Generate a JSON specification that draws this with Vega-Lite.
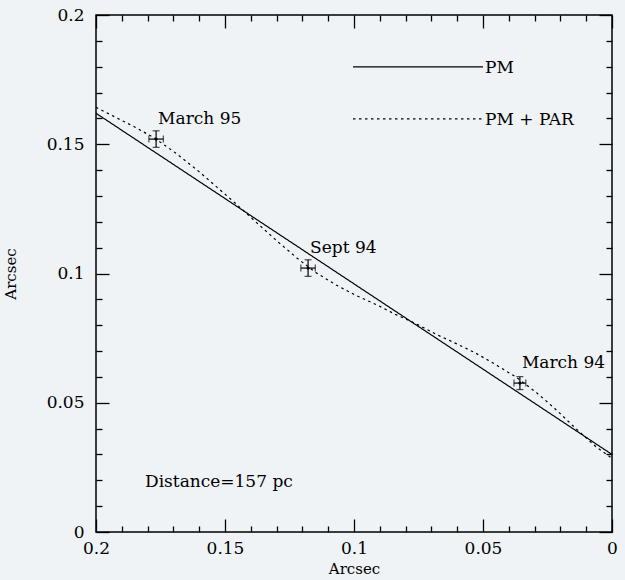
{
  "$schema": "https://vega.github.io/schema/vega-lite/v6.json",
  "width": 516,
  "height": 517,
  "autosize": {"type": "none"},
  "padding": {"left": 96, "top": 15, "right": 13, "bottom": 48},
  "background": "#eff3f6",
  "config": {
    "view": {"stroke": "#000", "strokeWidth": 1.5},
    "mark": {"color": "#000"},
    "axis": {
      "grid": false, "domain": false,
      "labelFont": "DejaVu Serif", "labelFontSize": 17, "labelColor": "#000",
      "titleFont": "DejaVu Serif", "titleFontSize": 15, "titleFontWeight": "normal", "titleColor": "#000",
      "tickColor": "#000", "tickWidth": 1.3,
      "labelFlush": false, "labelOverlap": false, "labelBound": false
    },
    "text": {"font": "DejaVu Serif", "fontSize": 17, "color": "#000"}
  },
  "datasets": {
    "lines": [
      {"series": "PM", "x": 0.2, "y": 0.162},
      {"series": "PM", "x": 0.0, "y": 0.030},
      {"series": "PM + PAR", "x": 0.2, "y": 0.1643},
      {"series": "PM + PAR", "x": 0.192, "y": 0.1602},
      {"series": "PM + PAR", "x": 0.185, "y": 0.1567},
      {"series": "PM + PAR", "x": 0.177, "y": 0.1522},
      {"series": "PM + PAR", "x": 0.169, "y": 0.1465},
      {"series": "PM + PAR", "x": 0.161, "y": 0.1402},
      {"series": "PM + PAR", "x": 0.153, "y": 0.1333},
      {"series": "PM + PAR", "x": 0.146, "y": 0.1272},
      {"series": "PM + PAR", "x": 0.138, "y": 0.1199},
      {"series": "PM + PAR", "x": 0.130, "y": 0.1127},
      {"series": "PM + PAR", "x": 0.122, "y": 0.1059},
      {"series": "PM + PAR", "x": 0.115, "y": 0.1005},
      {"series": "PM + PAR", "x": 0.107, "y": 0.0956},
      {"series": "PM + PAR", "x": 0.099, "y": 0.0914},
      {"series": "PM + PAR", "x": 0.091, "y": 0.0878},
      {"series": "PM + PAR", "x": 0.084, "y": 0.0842},
      {"series": "PM + PAR", "x": 0.076, "y": 0.0806},
      {"series": "PM + PAR", "x": 0.068, "y": 0.0764},
      {"series": "PM + PAR", "x": 0.060, "y": 0.0727},
      {"series": "PM + PAR", "x": 0.053, "y": 0.0693},
      {"series": "PM + PAR", "x": 0.045, "y": 0.0647},
      {"series": "PM + PAR", "x": 0.037, "y": 0.0598},
      {"series": "PM + PAR", "x": 0.029, "y": 0.0537},
      {"series": "PM + PAR", "x": 0.022, "y": 0.0476},
      {"series": "PM + PAR", "x": 0.014, "y": 0.0400},
      {"series": "PM + PAR", "x": 0.006, "y": 0.0328},
      {"series": "PM + PAR", "x": 0.0, "y": 0.0285}
    ],
    "obs": [
      {"epoch": "March 95", "x": 0.1767, "y": 0.1520, "xlo": 0.1739, "xhi": 0.1795, "ylo": 0.1488, "yhi": 0.1552},
      {"epoch": "Sept 94", "x": 0.1178, "y": 0.1021, "xlo": 0.1150, "xhi": 0.1206, "ylo": 0.0989, "yhi": 0.1053},
      {"epoch": "March 94", "x": 0.0357, "y": 0.0576, "xlo": 0.0334, "xhi": 0.0380, "ylo": 0.0551, "yhi": 0.0601}
    ]
  },
  "resolve": {"axis": {"x": "independent", "y": "independent"}},
  "layer": [
    {
      "data": {"name": "lines"},
      "mark": {"type": "line", "strokeWidth": 1.2, "color": "#000"},
      "encoding": {
        "x": {"field": "x", "type": "quantitative",
              "scale": {"domain": [0, 0.2], "reverse": true, "nice": false, "zero": false},
              "axis": {"orient": "bottom", "values": [0, 0.05, 0.1, 0.15, 0.2], "format": "~g",
                       "tickSize": -13, "labelPadding": 21, "title": "Arcsec", "titlePadding": 5}},
        "y": {"field": "y", "type": "quantitative",
              "scale": {"domain": [0, 0.2], "nice": false, "zero": false},
              "axis": {"orient": "left", "values": [0, 0.05, 0.1, 0.15, 0.2], "format": "~g",
                       "tickSize": -13, "labelPadding": 25, "title": "Arcsec", "titlePadding": 28}},
        "strokeDash": {"field": "series", "type": "nominal",
                       "scale": {"domain": ["PM", "PM + PAR"], "range": [[1, 0], [2.5, 3.5]]},
                       "legend": null}
      }
    },
    {
      "data": {"name": "obs"},
      "mark": {"type": "point", "filled": true, "size": 10, "opacity": 1},
      "encoding": {
        "x": {"field": "x", "type": "quantitative",
              "axis": {"orient": "bottom", "values": [0.01, 0.02, 0.03, 0.04, 0.06, 0.07, 0.08, 0.09, 0.11, 0.12, 0.13, 0.14, 0.16, 0.17, 0.18, 0.19],
                       "tickSize": -6, "labels": false, "title": null}},
        "y": {"field": "y", "type": "quantitative",
              "axis": {"orient": "left", "values": [0.01, 0.02, 0.03, 0.04, 0.06, 0.07, 0.08, 0.09, 0.11, 0.12, 0.13, 0.14, 0.16, 0.17, 0.18, 0.19],
                       "tickSize": -6, "labels": false, "title": null}}
      }
    },
    {
      "data": {"name": "obs"},
      "mark": {"type": "text", "align": "left", "baseline": "alphabetic", "dx": 2, "dy": -15},
      "encoding": {
        "x": {"field": "x", "type": "quantitative",
              "axis": {"orient": "top", "values": [0, 0.05, 0.1, 0.15, 0.2], "tickSize": -13, "labels": false, "title": null}},
        "y": {"field": "y", "type": "quantitative",
              "axis": {"orient": "right", "values": [0, 0.05, 0.1, 0.15, 0.2], "tickSize": -13, "labels": false, "title": null}},
        "text": {"field": "epoch"}
      }
    },
    {
      "data": {"name": "obs"},
      "mark": {"type": "rule", "strokeWidth": 1.2},
      "encoding": {
        "x": {"field": "xlo", "type": "quantitative",
              "axis": {"orient": "top", "values": [0.01, 0.02, 0.03, 0.04, 0.06, 0.07, 0.08, 0.09, 0.11, 0.12, 0.13, 0.14, 0.16, 0.17, 0.18, 0.19],
                       "tickSize": -6, "labels": false, "title": null}},
        "x2": {"field": "xhi"},
        "y": {"field": "y", "type": "quantitative",
              "axis": {"orient": "right", "values": [0.01, 0.02, 0.03, 0.04, 0.06, 0.07, 0.08, 0.09, 0.11, 0.12, 0.13, 0.14, 0.16, 0.17, 0.18, 0.19],
                       "tickSize": -6, "labels": false, "title": null}}
      }
    },
    {
      "data": {"name": "obs"},
      "mark": {"type": "rule", "strokeWidth": 1.2},
      "encoding": {
        "x": {"field": "x", "type": "quantitative", "axis": null},
        "y": {"field": "ylo", "type": "quantitative", "axis": null},
        "y2": {"field": "yhi"}
      }
    },
    {
      "data": {"name": "obs"},
      "mark": {"type": "tick", "orient": "vertical", "size": 7, "thickness": 1.2},
      "encoding": {
        "x": {"field": "xlo", "type": "quantitative", "axis": null},
        "y": {"field": "y", "type": "quantitative", "axis": null}
      }
    },
    {
      "data": {"name": "obs"},
      "mark": {"type": "tick", "orient": "vertical", "size": 7, "thickness": 1.2},
      "encoding": {
        "x": {"field": "xhi", "type": "quantitative", "axis": null},
        "y": {"field": "y", "type": "quantitative", "axis": null}
      }
    },
    {
      "data": {"name": "obs"},
      "mark": {"type": "tick", "orient": "horizontal", "size": 7, "thickness": 1.2},
      "encoding": {
        "x": {"field": "x", "type": "quantitative", "axis": null},
        "y": {"field": "ylo", "type": "quantitative", "axis": null}
      }
    },
    {
      "data": {"name": "obs"},
      "mark": {"type": "tick", "orient": "horizontal", "size": 7, "thickness": 1.2},
      "encoding": {
        "x": {"field": "x", "type": "quantitative", "axis": null},
        "y": {"field": "yhi", "type": "quantitative", "axis": null}
      }
    },
    {
      "data": {"values": [{}]},
      "mark": {"type": "rule", "strokeWidth": 1.2},
      "encoding": {
        "x": {"datum": 0.1004, "type": "quantitative", "axis": null},
        "x2": {"datum": 0.05},
        "y": {"datum": 0.1799, "type": "quantitative", "axis": null}
      }
    },
    {
      "data": {"values": [{}]},
      "mark": {"type": "rule", "strokeWidth": 1.2, "strokeDash": [2.5, 3.5]},
      "encoding": {
        "x": {"datum": 0.1004, "type": "quantitative", "axis": null},
        "x2": {"datum": 0.05},
        "y": {"datum": 0.1598, "type": "quantitative", "axis": null}
      }
    },
    {
      "data": {"values": [{}]},
      "mark": {"type": "text", "text": "PM", "align": "left", "baseline": "middle", "dx": 2, "dy": 1},
      "encoding": {
        "x": {"datum": 0.05, "type": "quantitative", "axis": null},
        "y": {"datum": 0.1799, "type": "quantitative", "axis": null}
      }
    },
    {
      "data": {"values": [{}]},
      "mark": {"type": "text", "text": "PM + PAR", "align": "left", "baseline": "middle", "dx": 2, "dy": 1},
      "encoding": {
        "x": {"datum": 0.05, "type": "quantitative", "axis": null},
        "y": {"datum": 0.1598, "type": "quantitative", "axis": null}
      }
    },
    {
      "data": {"values": [{}]},
      "mark": {"type": "text", "text": "Distance=157 pc", "align": "left", "baseline": "alphabetic"},
      "encoding": {
        "x": {"datum": 0.181, "type": "quantitative", "axis": null},
        "y": {"datum": 0.0174, "type": "quantitative", "axis": null}
      }
    }
  ]
}
